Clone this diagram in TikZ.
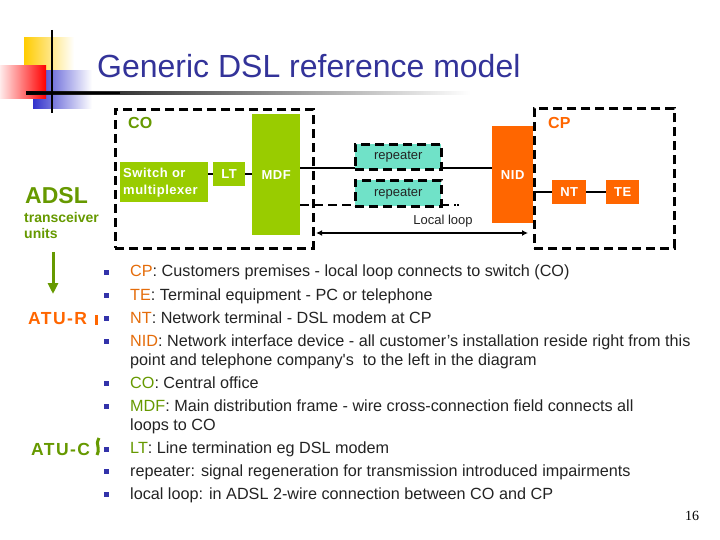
\documentclass[tikz,border=0pt]{standalone}
\usepackage{fontspec}
\setmainfont{Liberation Sans}[Ligatures=TeXOff]
\newfontfamily\pnfont{Liberation Serif}
\usetikzlibrary{arrows.meta,calc}
\definecolor{titleblue}{RGB}{51,51,153}
\definecolor{lime}{RGB}{153,204,0}
\definecolor{olivetxt}{RGB}{102,153,0}
\definecolor{orng}{RGB}{255,102,0}
\definecolor{orngtxt}{RGB}{228,108,10}
\definecolor{aqua}{RGB}{112,226,200}
\definecolor{bulblue}{RGB}{51,51,170}
\definecolor{txt}{RGB}{35,35,35}
\definecolor{logoyellow}{RGB}{255,204,0}
\definecolor{logoblue}{RGB}{51,51,204}
\tikzset{
  boxtext/.style={text=white, font=\bfseries\fontsize{13bp}{17bp}\selectfont\addfontfeature{LetterSpace=4}, inner sep=0, anchor=north west},
  greenbox/.style={boxtext, fill=lime},
  orangebox/.style={boxtext, fill=orng},
  dashbox/.style={draw=black, line width=2.6bp, dash pattern=on 9bp off 5bp, inner sep=0, anchor=north west},
  repbox/.style={dashbox, fill=aqua, text=txt, font=\fontsize{13bp}{15bp}\selectfont},
  conn/.style={draw=black, line width=2bp},
  dashconn/.style={draw=black, line width=2.6bp, dash pattern=on 9bp off 5bp},
  bulletsq/.style={fill=bulblue, minimum size=5bp, inner sep=0},
  listtext/.style={text=txt, font=\fontsize{16.2bp}{18bp}\selectfont, anchor=base west, inner sep=0},
  sidelabel/.style={font=\bfseries\fontsize{14bp}{16bp}\selectfont, anchor=base west, inner sep=0},
  atulabel/.style={font=\bfseries\fontsize{17.5bp}{19bp}\selectfont\addfontfeature{LetterSpace=8}, anchor=base west, inner sep=0},
}
\begin{document}
\begin{tikzpicture}[x=1bp,y=-1bp]
\useasboundingbox (0,0) rectangle (720,540);
% logo
\shade[left color=logoyellow, middle color=logoyellow, right color=white] (24,38) rectangle (74,72);
\shade[left color=logoblue, middle color=logoblue, right color=white] (33,71) rectangle (92,109);
\shade[left color=red!8, right color=red] (0,66) rectangle (46,99);
\shade[left color=black, right color=white] (26,91.8) rectangle (470,94.2);
\fill[black] (26,91.8) rectangle (120,94.2);
\draw[black, line width=2.2bp] (52,30) -- (52,113);
% title
\node[text=titleblue, font=\fontsize{32bp}{36bp}\selectfont, anchor=base west, inner sep=0] (title) at (97,78) {Generic DSL reference model};

% CO and CP dashed boxes
\node[dashbox, minimum width=198bp, minimum height=139bp] (co) at (114,108) {};
\node[dashbox, minimum width=140bp, minimum height=140bp] (cp) at (533,107) {};
\node[text=olivetxt, font=\bfseries\fontsize{16bp}{18bp}\selectfont, anchor=base west, inner sep=0] (colabel) at (128,129) {CO};
\node[text=orng, font=\bfseries\fontsize{16bp}{18bp}\selectfont, anchor=base west, inner sep=0] (cplabel) at (548,129) {CP};

% CO contents
\node[greenbox, minimum width=88bp, minimum height=40bp, text width=82bp, align=left, inner xsep=3bp] (sw) at (120,162) {Switch or\\multiplexer};
\node[greenbox, minimum width=32bp, minimum height=24bp, align=center] (lt) at (213,162) {LT};
\node[greenbox, minimum width=48bp, minimum height=121bp, align=center] (mdf) at (252,114) {MDF};

% CP side
\node[orangebox, minimum width=41bp, minimum height=97bp, align=center] (nid) at (492,126) {NID};
\node[orangebox, minimum width=34bp, minimum height=24bp, align=center] (nt) at (552,180) {NT};
\node[orangebox, minimum width=33bp, minimum height=24bp, align=center] (te) at (606,180) {TE};

% repeaters
\coordinate (dend) at (456,205);
\draw[dashconn] (mdf.east |- 0,205) -- (dend);
\fill[black] (457,204) rectangle (459,206);
\draw[conn] (mdf.east |- 0,168) -- (nid.west |- 0,168);
\node[repbox, minimum width=86bp, minimum height=25bp] (rep1) at (354,143) {repeater};
\node[repbox, minimum width=86bp, minimum height=26bp] (rep2) at (354,179) {repeater};

% connectors
\draw[conn] (sw.east |- lt.west) -- (lt.west);
\draw[conn] (lt.east) -- (lt.east -| mdf.west);
\draw[conn] (nid.east |- nt.west) -- (nt.west);
\draw[conn] (nt.east) -- (te.west);

% local loop
\coordinate (llrow) at (0,233);
\draw[conn, {Latex[length=6bp,width=6bp]}-{Latex[length=6bp,width=6bp]}, shorten <=1.5bp, shorten >=5bp] (co.east |- llrow) -- (cp.west |- llrow);
\node[text=txt, font=\fontsize{13bp}{15bp}\selectfont, inner sep=0] (lltext) at (443,221) {Local loop};

% left side labels
\node[text=olivetxt, font=\bfseries\fontsize{23bp}{25bp}\selectfont, anchor=base west, inner sep=0] (adsl) at (25,204) {ADSL};
\node[sidelabel, text=olivetxt] (trans) at (24,223) {transceiver};
\node[sidelabel, text=olivetxt] (units) at (24,239) {units};
\coordinate (arrtop) at (53,252);
\coordinate (arrbot) at (53,294);
\draw[olivetxt, line width=3bp, -{Triangle[length=11bp,width=10bp]}] (arrtop) -- (arrbot);
\node[atulabel, text=orng] (atur) at (28,324) {ATU-R};
\node[fill=orng, minimum width=3bp, minimum height=10bp, inner sep=0] (barr) at (96.5,320) {};
\node[atulabel, text=olivetxt] (atuc) at (31,455) {ATU-C};
\draw[olivetxt, line width=3bp] (99,438) .. controls (97,442) and (97,444) .. (98,447) .. controls (99,450) and (98,453) .. (97,455);

% bullets
\foreach \y [count=\i] in {272,295,318,341,383,406,449,471,494}
  \node[bulletsq] (b\i) at (106,\y) {};

% list text
\node[listtext] (l1) at (130,277) {{\color{orngtxt}CP}: Customers premises - local loop connects to switch (CO)};
\node[listtext] (l2) at (130,300) {{\color{orngtxt}TE}: Terminal equipment - PC or telephone};
\node[listtext] (l3) at (130,323) {{\color{orngtxt}NT}: Network terminal - DSL modem at CP};
\node[listtext] (l4) at (130,346) {{\color{orngtxt}NID}: Network interface device - all customer’s installation reside right from this};
\node[listtext] (l4b) at (130,365) {point and telephone company's\ \ to the left in the diagram};
\node[listtext] (l5) at (130,388) {{\color{olivetxt}CO}: Central office};
\node[listtext] (l6) at (130,411) {{\color{olivetxt}MDF}: Main distribution frame - wire cross-connection field connects all};
\node[listtext] (l6b) at (130,430) {loops to CO};
\node[listtext] (l7) at (130,453) {{\color{olivetxt}LT}: Line termination eg DSL modem};
\node[listtext] (l8) at (130,476) {repeater: signal regeneration for transmission introduced impairments};
\node[listtext] (l9) at (130,499) {local loop: in ADSL 2-wire connection between CO and CP};

% page number
\node[font=\pnfont\fontsize{14bp}{16bp}\selectfont, anchor=base west, inner sep=0, text=black] (pn) at (685,520) {16};
\end{tikzpicture}
\end{document}
